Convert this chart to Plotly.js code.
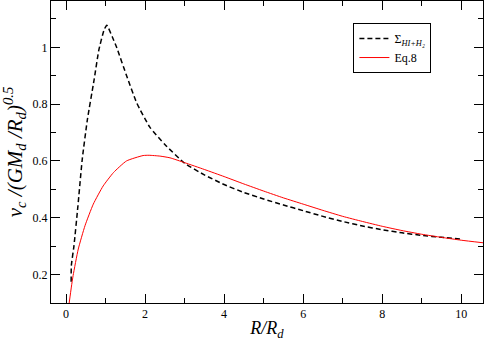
<!DOCTYPE html>
<html>
<head>
<meta charset="utf-8">
<script src="https://cdn.plot.ly/plotly-3.0.1.min.js"></script>
<style>
  body { margin: 0; background: #fff; }
  #chart { width: 485px; height: 341px; }
</style>
</head>
<body>
<div id="chart"></div>
<script>
// surface density curve (HI + H2), dashed black
var rGas = [0.13, 0.135, 0.2, 0.3, 0.41, 0.54, 0.71, 0.83, 0.96, 1.03, 1.17, 1.28, 1.54, 1.79, 2.12, 2.5, 3.0, 3.5, 4.0, 4.5, 5.0, 5.5, 6.0, 6.5, 7.0, 7.5, 8.0, 8.5, 9.0, 9.5, 10.0];
var vGas = [0.175, 0.232, 0.30, 0.44, 0.605, 0.745, 0.885, 0.99, 1.06, 1.078, 1.037, 1.0, 0.897, 0.804, 0.719, 0.658, 0.592, 0.551, 0.517, 0.489, 0.466, 0.445, 0.425, 0.405, 0.387, 0.371, 0.358, 0.347, 0.338, 0.331, 0.325];

// Eq.8 model, red
var rEq = [0.08, 0.135, 0.18, 0.31, 0.48, 0.69, 0.94, 1.2, 1.53, 1.95, 2.1, 2.38, 2.63, 3.0, 3.5, 4.0, 4.5, 5.0, 5.5, 6.0, 6.5, 7.0, 7.5, 8.0, 8.5, 9.0, 9.5, 10.0, 10.55];
var vEq = [0.10, 0.156, 0.197, 0.29, 0.372, 0.448, 0.512, 0.559, 0.60, 0.619, 0.62, 0.617, 0.611, 0.594, 0.570, 0.545, 0.519, 0.494, 0.470, 0.448, 0.426, 0.405, 0.387, 0.370, 0.355, 0.342, 0.331, 0.321, 0.312];

var serif = 'Liberation Serif';

var data = [{
  x: rGas,
  y: vGas,
  mode: 'lines',
  name: 'Σ<sub><i>HI+H₂</i></sub>',
  line: {color: 'black', width: 1.5, dash: '5px,3px', shape: 'spline', smoothing: 0.5}
}, {
  x: rEq,
  y: vEq,
  mode: 'lines',
  name: 'Eq.8',
  line: {color: 'red', width: 1, shape: 'spline', smoothing: 0.5}
}];

var axisCommon = {
  showline: true,
  linecolor: 'black',
  linewidth: 1,
  mirror: 'allticks',
  ticks: 'inside',
  ticklen: 9,
  tickcolor: 'black',
  showgrid: false,
  zeroline: false,
  tickfont: {family: serif, size: 12, color: 'black'}
};

var layout = {
  width: 485,
  height: 341,
  margin: {l: 51, r: 2, t: 1, b: 38},
  paper_bgcolor: 'white',
  plot_bgcolor: 'white',
  font: {family: serif},
  showlegend: true,
  legend: {
    x: 0.70, y: 0.927, xanchor: 'left', yanchor: 'top',
    bordercolor: 'black', borderwidth: 1,
    font: {family: serif, size: 12, color: 'black'},
    itemwidth: 30,
    tracegroupgap: 0
  },
  xaxis: Object.assign({}, axisCommon, {
    range: [-0.38, 10.55],
    tick0: 0, dtick: 2,
    minor: {dtick: 1, ticks: 'inside', ticklen: 5, tickcolor: 'black', showgrid: false},
    title: {text: '<i>R/R<sub>d</sub></i>', font: {family: serif, size: 18, color: 'black'}, standoff: 4}
  }),
  yaxis: Object.assign({}, axisCommon, {
    range: [0.1, 1.163],
    tick0: 0.2, dtick: 0.2,
    minor: {dtick: 0.1, ticks: 'inside', ticklen: 5, tickcolor: 'black', showgrid: false},
    title: {text: '<i>v<sub>c</sub> /(GM<sub>d</sub> /R<sub>d</sub>)<sup>0.5</sup></i>', font: {family: serif, size: 21, color: 'black'}, standoff: 6}
  })
};

Plotly.newPlot('chart', data, layout, {staticPlot: true, displayModeBar: false});
</script>
</body>
</html>
